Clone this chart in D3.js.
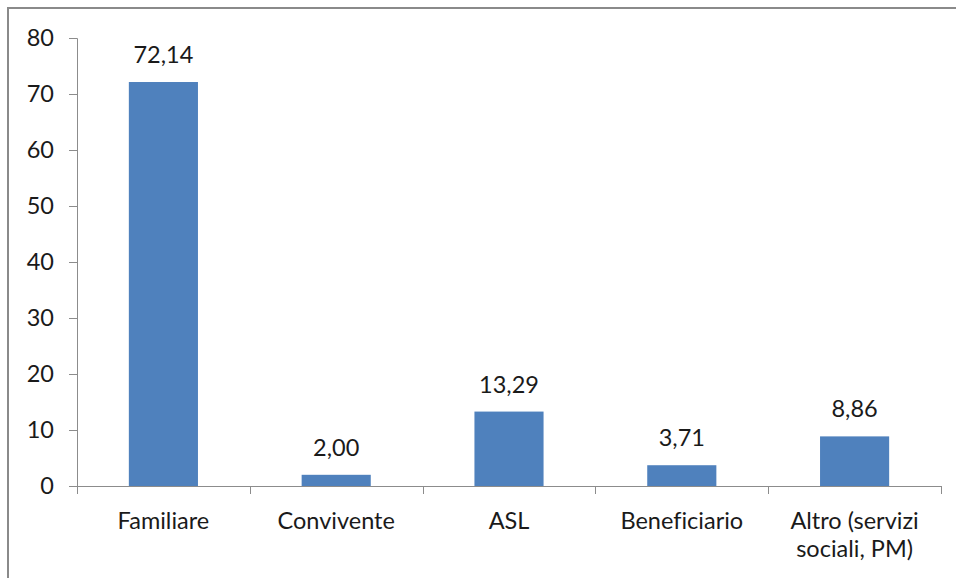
<!DOCTYPE html>
<html><head><meta charset="utf-8">
<script src="https://cdn.jsdelivr.net/npm/d3@7"></script>
<style>
html,body{margin:0;padding:0;background:#fff;}
svg{display:block;}
text{font-family:Lato,"Open Sans",sans-serif;fill:#1a1a1a;font-variant-ligatures:none;}
</style></head><body>
<script>
const categories = ["Familiare", "Convivente", "ASL", "Beneficiario", "Altro (servizi sociali, PM)"];
const categoryLines = [["Familiare"], ["Convivente"], ["ASL"], ["Beneficiario"], ["Altro (servizi", "sociali, PM)"]];
const values = [72.14, 2.00, 13.29, 3.71, 8.86];
const valueLabels = ["72,14", "2,00", "13,29", "3,71", "8,86"];
const yTicks = [0, 10, 20, 30, 40, 50, 60, 70, 80];

(function () {
const W = 956, H = 578;
const FS = 23.5;
const svg = d3.select("body").append("svg").attr("width", W).attr("height", H);

// outer frame (extends beyond right/bottom edges)
svg.append("rect").attr("x", 8).attr("y", 8).attr("width", W + 20).attr("height", H + 20)
  .attr("fill", "none").attr("stroke", "#8a8a8a").attr("stroke-width", 2);

const pL = 77, pR = 941, pT = 38, pB = 486;
const x = d3.scaleBand().domain(categories).range([pL, pR]).paddingInner(0.6).paddingOuter(0.3);
const xb = d3.scaleBand().domain(categories).range([pL, pR]);
const y = d3.scaleLinear().domain([0, 80]).range([pB, pT]);

const axisColor = "#8c8c8c";

// y axis
const ya = svg.append("g").attr("transform", `translate(${pL},0)`)
  .call(d3.axisLeft(y).tickValues(yTicks).tickSize(8).tickPadding(15).tickFormat(d3.format("d")));
ya.select(".domain").attr("stroke", axisColor).attr("d", `M-8,${pT+0.5}H0.5V${pB}`);
ya.selectAll(".tick line").attr("stroke", axisColor);
ya.selectAll(".tick text").attr("font-size", FS).attr("font-family", "Lato").attr("fill", "#1a1a1a");

// bars
svg.selectAll(".bar").data(values).enter().append("rect")
  .attr("x", (d, i) => x(categories[i]))
  .attr("width", x.bandwidth())
  .attr("y", d => y(d))
  .attr("height", d => y(0) - y(d))
  .attr("fill", "#4f81bd");

// x axis
const xg = svg.append("g");
xg.append("line").attr("x1", pL).attr("x2", pR + 0.5).attr("y1", pB + 0.5).attr("y2", pB + 0.5)
  .attr("stroke", axisColor);
const bounds = categories.map(c => xb(c)).concat([pR]);
xg.selectAll(".xt").data(bounds).enter().append("line")
  .attr("x1", d => Math.round(d) + 0.5).attr("x2", d => Math.round(d) + 0.5)
  .attr("y1", pB).attr("y2", pB + 8).attr("stroke", axisColor);

// category labels
categories.forEach((c, i) => {
  const cx = xb(c) + xb.bandwidth() / 2;
  const t = svg.append("text").attr("text-anchor", "middle").attr("font-size", FS)
    .attr("x", cx).attr("y", 529);
  categoryLines[i].forEach((ln, j) => {
    t.append("tspan").attr("x", cx).attr("dy", j === 0 ? 0 : 28).text(ln);
  });
});

// value labels
svg.selectAll(".vl").data(values).enter().append("text")
  .attr("text-anchor", "middle").attr("font-size", FS)
  .attr("x", (d, i) => x(categories[i]) + x.bandwidth() / 2)
  .attr("y", d => y(d) - 19)
  .text((d, i) => valueLabels[i]);
})();
</script>
</body></html>
